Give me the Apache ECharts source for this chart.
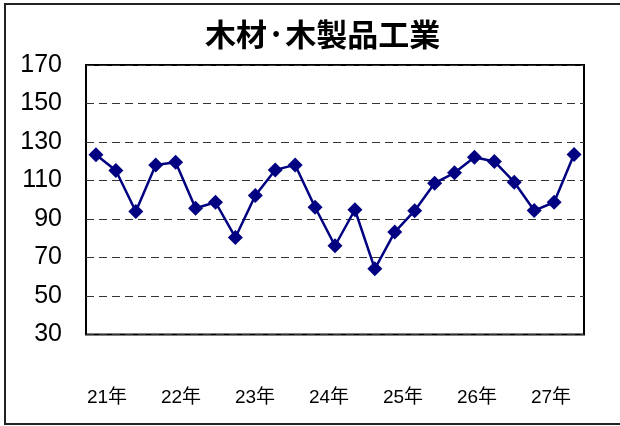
<!DOCTYPE html>
<html>
<head>
<meta charset="utf-8">
<script src="https://cdn.jsdelivr.net/npm/echarts@6/dist/echarts.min.js"></script>
<style>html,body{margin:0;padding:0;background:#fff}#c{width:620px;height:426px}</style>
</head>
<body>
<div id="c"></div>
<script>
const title = "木材·木製品工業";
const categories = [
  "21年Q1","21年Q2","21年Q3","21年Q4",
  "22年Q1","22年Q2","22年Q3","22年Q4",
  "23年Q1","23年Q2","23年Q3","23年Q4",
  "24年Q1","24年Q2","24年Q3","24年Q4",
  "25年Q1","25年Q2","25年Q3","25年Q4",
  "26年Q1","26年Q2","26年Q3","26年Q4",
  "27年Q1"
];
const values = [
  123.4,115.2,93.9,118.1,119.5,95.6,98.7,80.4,102.2,115.5,118.1,96.1,76.1,
  94.8,64.1,83.2,94.3,108.6,114.0,122.1,119.9,109.1,94.4,98.7,123.5
];
const yearLabels = ["21年","22年","23年","24年","25年","26年","27年"];
const yMin = 30, yMax = 170, yStep = 20;

const chart = echarts.init(document.getElementById('c'), null, {renderer:'canvas'});
chart.setOption({
  animation:false,
  backgroundColor:'#fff',
  title:{
    text:title, left:200, top:14,
    textStyle:{fontFamily:'"Noto Sans CJK JP"', fontSize:31, fontWeight:'bold', color:'#000'}
  },
  graphic:[{
    type:'rect', shape:{x:5, y:4, width:630, height:420},
    style:{fill:null, stroke:'#222', lineWidth:2}, silent:true, z:-1
  }],
  grid:[
    {left:86, top:65, width:498, height:269.5, show:true, borderColor:'#000', borderWidth:2},
    {left:70, top:65, width:518, height:269.5, show:false}
  ],
  xAxis:[
    {type:'category', gridIndex:0, data:categories, boundaryGap:true,
     axisLine:{show:false}, axisTick:{show:false}, axisLabel:{show:false}, splitLine:{show:false}},
    {type:'category', gridIndex:1, data:yearLabels, boundaryGap:true,
     axisLine:{show:false}, axisTick:{show:false}, splitLine:{show:false},
     axisLabel:{margin:54, fontSize:19, color:'#000', fontFamily:'"Liberation Sans", "Noto Sans CJK JP", Arial'}}
  ],
  yAxis:[
    {type:'value', gridIndex:0, min:yMin, max:yMax, interval:yStep,
     axisLine:{show:false}, axisTick:{show:false},
     axisLabel:{margin:24, fontSize:25, color:'#000', fontFamily:'"Liberation Sans", Arial'},
     splitLine:{show:true, lineStyle:{color:'#333', width:1, type:[8,5]}}},
    {type:'value', gridIndex:1, min:0, max:1, show:false}
  ],
  series:[{
    type:'line', xAxisIndex:0, yAxisIndex:0, data:values,
    showSymbol:true, showAllSymbol:true,
    symbol:'diamond', symbolSize:15,
    lineStyle:{color:'#000080', width:2.5},
    itemStyle:{color:'#000080', opacity:1},
    z:5
  }]
});
</script>
</body>
</html>
